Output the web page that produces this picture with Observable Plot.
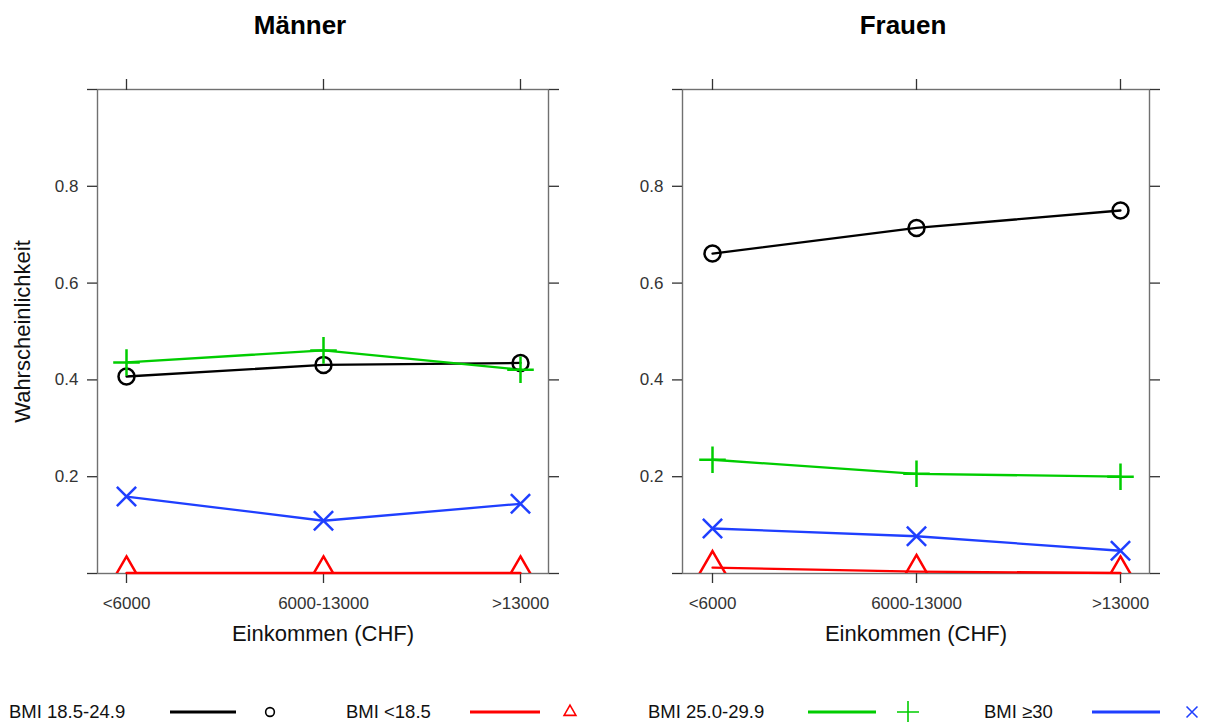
<!DOCTYPE html>
<html><head><meta charset="utf-8">
<script src="https://cdn.jsdelivr.net/npm/d3@7"></script>
<script src="https://cdn.jsdelivr.net/npm/@observablehq/plot@0.6"></script>
<style>
body{margin:0;background:#fff;font-family:"Liberation Sans",Arial,Helvetica,sans-serif;}
#root{position:relative;width:1210px;height:724px;overflow:hidden;background:#fff;}
.title{position:absolute;top:12px;font-weight:bold;font-size:26px;line-height:26px;text-align:center;color:#000;}
.panel{position:absolute;top:0;}
#legend{position:absolute;left:0;top:692px;}
</style></head><body><div id="root"></div>
<script>
// ---- data ----
const incomes = ["<6000", "6000-13000", ">13000"];
const groups = ["BMI 18.5-24.9", "BMI <18.5", "BMI 25.0-29.9", "BMI ≥30"];
const colors = ["#000000", "#FF0000", "#00CD00", "#1f3fff"];
const symbols = ["circle", "triangle", "plus", "times"];
const yTicks = [0, 0.2, 0.4, 0.6, 0.8, 1];
const panelTitles = ["Männer", "Frauen"];
const xLabel = "Einkommen (CHF)";
const yLabel = "Wahrscheinlichkeit";
// Männer
const m_normal = [0.407, 0.431, 0.435];
const m_under  = [0.001, 0.001, 0.001];
const m_over   = [0.436, 0.461, 0.421];
const m_obese  = [0.159, 0.109, 0.144];
// Frauen
const f_normal = [0.661, 0.714, 0.750];
const f_under  = [0.012, 0.004, 0.001];
const f_over   = [0.235, 0.206, 0.200];
const f_obese  = [0.093, 0.077, 0.047];

function tidy(seriesList) {
  const rows = [];
  seriesList.forEach((vals, gi) => vals.forEach((v, i) => rows.push({group: groups[gi], income: incomes[i], p: v})));
  return rows;
}
const menRows = tidy([m_normal, m_under, m_over, m_obese]);
const womenRows = tidy([f_normal, f_under, f_over, f_obese]);

// symbol radii (Plot r) tuned to look like lattice pch
const symR = {circle: 8, triangle: 10.7, plus: 8.6, times: 8.8};
const FONT = '"Liberation Sans", Arial, Helvetica, sans-serif';

function panel(rows, {width, marginLeft, marginRight, yLab}) {
  const marks = [
    Plot.frame({stroke: "#707070", strokeWidth: 1.4}),
    Plot.axisY({anchor: "left", ticks: yTicks, tickSize: 10, tickPadding: 9, fontSize: 17, strokeWidth: 1.3,
      tickFormat: d => (d > 0 && d < 1 ? d.toFixed(1) : ""), label: null}),
    Plot.axisY({anchor: "right", ticks: yTicks, tickSize: 10, strokeWidth: 1.3, tickFormat: () => "", label: null}),
    Plot.axisX({anchor: "bottom", tickSize: 10, tickPadding: 13, fontSize: 17, strokeWidth: 1.3, label: null}),
    Plot.axisX({anchor: "top", tickSize: 11, strokeWidth: 1.3, tickFormat: () => "", label: null}),
    Plot.text([xLabel], {text: d => d, frameAnchor: "bottom", dy: 67, fontSize: 22, fill: "#111"})
  ];
  if (yLab) marks.push(Plot.text([yLabel], {text: d => d, frameAnchor: "left", textAnchor: "middle", rotate: -90, dx: -75, fontSize: 22, fill: "#111"}));
  groups.forEach((g, gi) => {
    const d = rows.filter(r => r.group === g);
    marks.push(Plot.line(d, {x: "income", y: "p", stroke: colors[gi], strokeWidth: 2.3}));
  });
  groups.forEach((g, gi) => {
    const d = rows.filter(r => r.group === g);
    marks.push(Plot.dot(d, {x: "income", y: "p", symbol: symbols[gi], r: symR[symbols[gi]],
      stroke: colors[gi], fill: "none", strokeWidth: 2.5, clip: true}));
  });
  return Plot.plot({
    width, height: 660, marginLeft, marginRight, marginTop: 89, marginBottom: 87,
    style: {fontFamily: FONT, fontSize: "17px", color: "#333", background: "transparent", overflow: "visible"},
    x: {type: "point", domain: incomes, padding: 0.14},
    y: {domain: [0, 1]},
    marks
  });
}

const root = document.getElementById("root");
const specs = [
  {rows: menRows, left: 0, width: 600, marginLeft: 97, marginRight: 52, yLab: true, titleLeft: 0, titleWidth: 600},
  {rows: womenRows, left: 600, width: 610, marginLeft: 82, marginRight: 61, yLab: false, titleLeft: 600, titleWidth: 606}
];
specs.forEach((s, i) => {
  const div = document.createElement("div");
  div.className = "panel";
  div.style.left = s.left + "px";
  div.appendChild(panel(s.rows, s));
  root.appendChild(div);
  const t = document.createElement("div");
  t.className = "title";
  t.style.left = s.titleLeft + "px";
  t.style.width = s.titleWidth + "px";
  t.textContent = panelTitles[i];
  root.appendChild(t);
});

// ---- legend ----
const legendX = [{text: 9, line: [170, 236], sym: 270}, {text: 346, line: [470, 540], sym: 570},
                 {text: 648, line: [808, 876], sym: 908}, {text: 984, line: [1092, 1160], sym: 1192}];
const legendSym = {circle: d3.symbolCircle, triangle: d3.symbolTriangle2, plus: d3.symbolPlus, times: d3.symbolTimes};
const legendSize = {circle: 60, triangle: 100, plus: 160, times: 80};
const svg = d3.select(root).append("svg").attr("id", "legend").attr("width", 1210).attr("height", 30);
const cy = 20;
groups.forEach((g, gi) => {
  const L = legendX[gi];
  svg.append("text").attr("x", L.text).attr("y", cy).attr("dy", "0.35em")
    .attr("font-family", FONT).attr("font-size", 18.5).attr("fill", "#111").text(g);
  svg.append("line").attr("x1", L.line[0]).attr("x2", L.line[1]).attr("y1", cy).attr("y2", cy)
    .attr("stroke", colors[gi]).attr("stroke-width", 3);
  svg.append("path").attr("transform", `translate(${L.sym},${cy})`)
    .attr("d", d3.symbol(legendSym[symbols[gi]], legendSize[symbols[gi]])())
    .attr("fill", "none").attr("stroke", colors[gi]).attr("stroke-width", 1.6);
});
</script></body></html>
